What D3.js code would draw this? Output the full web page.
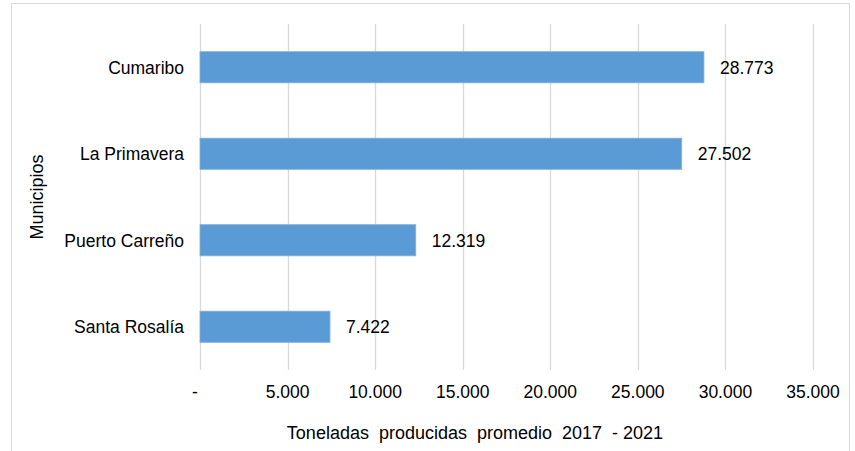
<!DOCTYPE html>
<html>
<head>
<meta charset="utf-8">
<script src="https://cdn.jsdelivr.net/npm/d3@7"></script>
<style>
  body { margin: 0; background: #fff; }
  text { font-family: "Liberation Sans", Arial, sans-serif; fill: #000; }
</style>
</head>
<body>
<script>
// chart data
var municipios = ["Cumaribo", "La Primavera", "Puerto Carreño", "Santa Rosalía"];
var toneladas = [28773, 27502, 12319, 7422];
var xTicks = [0, 5000, 10000, 15000, 20000, 25000, 30000, 35000];

var width = 855, height = 451;
var margin = {top: 24, right: 42, bottom: 81, left: 200};

var svg = d3.select("body").append("svg")
    .attr("width", width)
    .attr("height", height);

// outer frame
svg.append("rect")
    .attr("x", 11.5).attr("y", 3.5)
    .attr("width", 838).attr("height", 460)
    .attr("fill", "none")
    .attr("stroke", "#d9d9d9");

var x = d3.scaleLinear()
    .domain([0, 35000])
    .range([margin.left, width - margin.right]);

var y = d3.scaleBand()
    .domain(municipios)
    .range([margin.top, height - margin.bottom])
    .paddingInner(0.64)
    .paddingOuter(0.32);

var fmt = function(v){
    return v === 0 ? "-" : d3.format(",")(v).replace(/,/g, ".");
};

// gridlines
svg.selectAll(".grid")
    .data(xTicks)
    .enter().append("line")
    .attr("class", "grid")
    .attr("x1", function(d){ return Math.round(x(d)) + 0.5; })
    .attr("x2", function(d){ return Math.round(x(d)) + 0.5; })
    .attr("y1", margin.top)
    .attr("y2", height - margin.bottom)
    .attr("stroke", "#d9d9d9")
    .attr("stroke-width", 1.3);

// bars
svg.selectAll(".bar")
    .data(toneladas)
    .enter().append("rect")
    .attr("class", "bar")
    .attr("x", x(0))
    .attr("y", function(d, i){ return y(municipios[i]); })
    .attr("width", function(d){ return x(d) - x(0); })
    .attr("height", y.bandwidth())
    .attr("fill", "#5b9bd5")
    .attr("stroke", "#7fb1df")
    .attr("stroke-width", 0.8);

// value labels
svg.selectAll(".val")
    .data(toneladas)
    .enter().append("text")
    .attr("class", "val")
    .attr("x", function(d){ return x(d) + 16; })
    .attr("y", function(d, i){ return y(municipios[i]) + y.bandwidth() / 2; })
    .attr("dy", "0.36em")
    .attr("font-size", 17.5)
    .text(fmt);

// category labels
svg.selectAll(".cat")
    .data(municipios)
    .enter().append("text")
    .attr("class", "cat")
    .attr("x", 184)
    .attr("y", function(d){ return y(d) + y.bandwidth() / 2; })
    .attr("dy", "0.36em")
    .attr("text-anchor", "end")
    .attr("font-size", 17.5)
    .text(function(d){ return d; });

// x tick labels
svg.selectAll(".tick")
    .data(xTicks)
    .enter().append("text")
    .attr("class", "tick")
    .attr("x", function(d){ return d === 0 ? x(d) - 5 : x(d); })
    .attr("y", 392)
    .attr("dy", "0.36em")
    .attr("text-anchor", "middle")
    .attr("font-size", 17.5)
    .text(fmt);

// axis titles
svg.append("text")
    .attr("x", 475)
    .attr("y", 433)
    .attr("dy", "0.36em")
    .attr("text-anchor", "middle")
    .attr("font-size", 18)
    .style("white-space", "pre")
    .text("Toneladas  producidas  promedio  2017  - 2021");

svg.append("text")
    .attr("transform", "translate(37,197) rotate(-90)")
    .attr("dy", "0.36em")
    .attr("text-anchor", "middle")
    .attr("font-size", 18)
    .text("Municipios");
</script>
</body>
</html>
